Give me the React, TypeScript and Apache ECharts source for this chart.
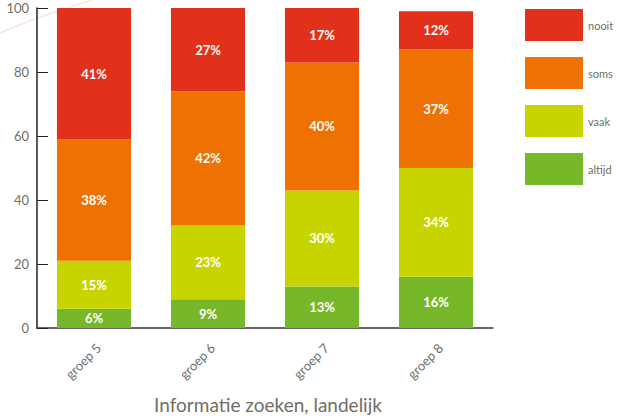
import React, { useEffect, useRef } from "react";
import * as echarts from "echarts";

const categories = ["groep 5", "groep 6", "groep 7", "groep 8"];
const altijd = [6, 9, 13, 16];
const vaak = [15, 23, 30, 34];
const soms = [38, 42, 40, 37];
const nooit = [41, 27, 17, 12];
const yTicks = [0, 20, 40, 60, 80, 100];
const legendOrder = ["nooit", "soms", "vaak", "altijd"];
const title = "Informatie zoeken, landelijk";

const COLORS: Record<string, string> = {
  altijd: "#77B82B",
  vaak: "#C8D400",
  soms: "#EE7203",
  nooit: "#E2311A",
};

const FONT = "Lato, 'Open Sans', sans-serif";
const GREY = "#6f6f63";

export default function App() {
  const ref = useRef<HTMLDivElement>(null);
  useEffect(() => {
    if (!ref.current) return;
    const chart = echarts.init(ref.current, undefined, { renderer: "svg" });
    const mk = (name: string, data: number[]) => ({
      name,
      type: "bar",
      stack: "total",
      data,
      barWidth: "65%",
      clip: true,
      itemStyle: { color: COLORS[name] },
      label: {
        show: true,
        position: "inside",
        formatter: "{c}%",
        color: "#ffffff",
        fontWeight: "bold",
        fontSize: 13,
        fontFamily: FONT,
      },
    });
    chart.setOption({
      animation: false,
      grid: { left: 37, right: 124, top: 8, bottom: 88 },
      legend: {
        data: legendOrder,
        orient: "vertical",
        left: 525,
        top: 9,
        padding: 0,
        itemWidth: 58,
        itemHeight: 32,
        itemGap: 16,
        icon: "rect",
        selectedMode: false,
        textStyle: {
          color: GREY,
          fontSize: 11,
          fontFamily: FONT,
          padding: [8, 0, 0, 0],
        },
      },
      graphic: [
        {
          type: "bezierCurve",
          z: -1,
          shape: { x1: 0, y1: 33, x2: 96, y2: -1, cpx1: 30, cpy1: 20, cpx2: 65, cpy2: 8 },
          style: { stroke: "#fbe3d6", lineWidth: 1.5, fill: "none" },
        },
        {
          type: "text",
          x: 268,
          y: 404,
          style: {
            text: title,
            fill: GREY,
            fontSize: 19,
            fontFamily: FONT,
            textAlign: "center",
            textVerticalAlign: "middle",
          },
        },
      ],
      xAxis: {
        type: "category",
        data: categories,
        axisLine: { lineStyle: { color: "#333", width: 1.5 } },
        axisTick: { inside: true, length: 7, lineStyle: { color: "#222" } },
        axisLabel: {
          rotate: 45,
          color: GREY,
          fontSize: 13,
          fontFamily: FONT,
          margin: 13,
          verticalAlign: "top",
        },
      },
      yAxis: {
        type: "value",
        min: 0,
        max: 100,
        interval: 20,
        splitLine: { show: false },
        axisLine: { show: true, lineStyle: { color: "#222", width: 1.5 } },
        axisTick: { show: true, inside: true, length: 11, lineStyle: { color: "#222" } },
        axisLabel: {
          color: GREY,
          fontSize: 13,
          fontFamily: FONT,
          margin: 8,
          formatter: (v: number) => (yTicks.includes(v) ? String(v) : ""),
        },
      },
      series: [mk("altijd", altijd), mk("vaak", vaak), mk("soms", soms), mk("nooit", nooit)],
    });
    return () => chart.dispose();
  }, []);
  return (
    <div
      ref={ref}
      style={{ position: "fixed", left: 0, top: 0, width: 617, height: 416, background: "#fff" }}
    />
  );
}
